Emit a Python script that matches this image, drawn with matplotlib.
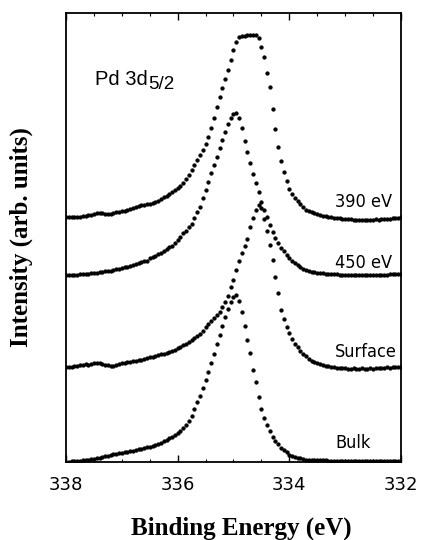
import numpy as np
import matplotlib
matplotlib.use("Agg")
import matplotlib.pyplot as plt
import matplotlib.font_manager as fm
from matplotlib.ticker import MultipleLocator

# Binding energy grid (eV), high to low as on the axis
energy = np.round(np.linspace(338.0, 332.0, 121), 2)

# Intensities (arb. units), one value per grid point
i390 = [
    245, 245, 245.5, 245, 245.5, 245.3, 246, 246.5, 247, 247.5,
    248, 249, 249.3, 249, 248.5, 248, 248, 249, 250, 250.5,
    251, 251.5, 252, 253, 254, 255, 256, 257, 257.5, 258,
    258.5, 259, 260, 261, 263, 265, 266.5, 268, 270, 272,
    274.5, 276.5, 278.7, 283, 287.5, 292, 297, 302, 307, 312.5,
    318, 325, 334, 344, 355, 365, 374, 383, 392, 402,
    412, 420, 425.5, 426.5, 426.5, 427, 427, 427, 427.5, 424,
    415, 405, 389, 375, 353, 333, 315, 301.5, 290, 281,
    273.5, 268.5, 264.5, 261.5, 258.5, 255.5, 252.5, 251, 250, 249,
    248, 247, 246.5, 246, 245.5, 245, 244.5, 244, 243.7, 243.5,
    243.5, 243, 243, 242.5, 242.5, 242, 242, 242, 242.5, 242,
    242.5, 243, 242.5, 243, 243, 243.3, 243.5, 244, 244, 244.5,
    244.7]

i450 = [
    187, 187, 187, 187.3, 187.5, 187.7, 188, 188.2, 188.4, 188.6,
    188.8, 189.2, 189.7, 190.2, 190.6, 191.1, 191.5, 192, 192.7, 193.4,
    194.1, 194.8, 195.5, 196.3, 197.2, 198.1, 198.9, 199.8, 200.6, 201.5,
    203.7, 205.1, 206.5, 207.9, 209.4, 211.1, 212.9, 214.6, 216.3, 218.6,
    222.2, 225.5, 228.7, 231, 234.6, 238.3, 244.2, 249.7, 255.3, 263.6,
    272, 280.3, 288.6, 297, 305.3, 313.6, 322, 330.3, 337.9, 344.4,
    348.5, 349.5, 344.5, 334, 321, 310, 299, 288.5, 279, 270,
    260, 252, 245.3, 237, 230, 224, 218.7, 214.5, 210.7, 207,
    204, 201.5, 199, 196.8, 195, 193.5, 192, 191, 190.5, 190,
    189.5, 189, 188.7, 188.4, 188.2, 188, 187.8, 187.6, 187.5, 187.4,
    187.3, 187.2, 187.1, 187, 187, 187, 187, 187, 187, 187,
    187, 187.2, 187.3, 187.4, 187.5, 187.5, 187.6, 187.6, 187.7, 187.7,
    187.7]

i_surface = [
    95, 95.5, 95, 96, 96.5, 97, 97.5, 98, 97.5, 98.5,
    99, 99.5, 99.3, 98.5, 97.5, 97, 96.3, 96.5, 97.5, 98.5,
    99, 99.5, 100, 100.3, 101, 101.5, 102, 102.5, 103.5, 104.5,
    105, 105.5, 106.5, 107, 108, 108.5, 109, 110, 111, 112.5,
    114, 115.5, 117, 118.5, 120, 122, 124, 126, 128.5, 131,
    135, 138, 141, 144, 147, 150.5, 155, 160, 166, 175,
    182, 192, 201, 209.5, 216.5, 223.5, 235, 244.5, 252, 257,
    254, 243.5, 231, 217, 202, 185.5, 168.7, 152, 142.7, 135.3,
    129, 123, 118.5, 115.5, 111.5, 108.5, 106, 103, 101.5, 100,
    99, 98, 97, 96.5, 96, 95.5, 95, 94.5, 94, 94,
    93.7, 93.5, 93.5, 94, 93.5, 93, 94, 93.5, 93.5, 94,
    93.5, 94, 94.5, 94, 94.5, 95, 94.5, 95, 95, 95.5,
    95.3]

i_bulk = [
    0.3, 0.4, 0.6, 0.8, 1.0, 1.3, 1.6, 2.0, 2.4, 2.8,
    3.3, 3.8, 4.4, 5.0, 5.6, 6.3, 7.0, 7.6, 8.2, 8.8,
    9.3, 9.8, 10.3, 10.8, 11.4, 12.0, 12.7, 13.4, 14.0, 14.7,
    15.3, 16.2, 17.2, 18.3, 19.5, 20.7, 22, 23.6, 25.2, 27,
    28.9, 31, 34.2, 37.4, 40.7, 46.2, 53.1, 60.1, 66, 73.9,
    82, 90.3, 99, 108.3, 117.6, 126.8, 136.1, 145.3, 152.8, 159.8,
    165.4, 167, 161, 150.3, 136.5, 122.5, 108.7, 92, 80, 65.3,
    53.1, 43.8, 37, 30.8, 25.4, 21.5, 17.6, 14.5, 12.2, 9.9,
    7.4, 6.3, 5.4, 4.5, 3.6, 2.7, 2.5, 2.3, 2.2, 2.0,
    1.9, 1.8, 1.7, 1.6, 1.5, 1.4, 1.3, 1.3, 1.3, 1.3,
    1.3, 1.3, 1.3, 1.3, 1.3, 1.3, 1.3, 1.3, 1.3, 1.3,
    1.3, 1.3, 1.3, 1.3, 1.3, 1.3, 1.3, 1.3, 1.3, 1.3,
    1.3]

series = [i390, i450, i_surface, i_bulk]
labels = ["390 eV", "450 eV", "Surface", "Bulk"]
label_heights = [255, 194, 105, 14]   # label baselines, same units as intensity
xticks = [338, 336, 334, 332]

# Narrow font for the curve labels, if one is installed; else Lato
narrow_props = None
for f in fm.fontManager.ttflist:
    if ("Narrow" in f.name or "Condensed" in f.name or
            str(f.stretch) in ("condensed", "semi-condensed", "extra-condensed")) \
            and f.style == "normal" and f.weight in (400, "normal", "regular"):
        narrow_props = fm.FontProperties(fname=f.fname, size=13)
        break
if narrow_props is None:
    narrow_props = fm.FontProperties(family="Lato", size=11.5)

fig = plt.figure(figsize=(4.22, 5.40), dpi=100)
ax = fig.add_axes([66 / 422, 78 / 540, 335 / 422, 449 / 540])

for vals in series:
    ax.plot(energy, vals, linestyle="none", marker="o", markersize=2.7,
            markerfacecolor="black", markeredgecolor="black",
            markeredgewidth=0.3, color="black")

ax.set_xlim(338, 332)
ax.set_ylim(0, 449)
ax.set_yticks([])
ax.set_xticks(xticks)
ax.set_xticklabels([str(t) for t in xticks], family="DejaVu Sans", fontsize=13)
ax.xaxis.set_minor_locator(MultipleLocator(0.5))
ax.tick_params(axis="x", which="major", direction="in", length=5, width=1,
               top=True, bottom=True, pad=10)
ax.tick_params(axis="x", which="minor", direction="in", length=2.5, width=0.8,
               top=True, bottom=True)
for s in ax.spines.values():
    s.set_linewidth(1.3)

for lab, yb in zip(labels, label_heights):
    ax.text(333.18, yb, lab, fontproperties=narrow_props,
            ha="left", va="baseline")

t1 = ax.text(337.48, 377, "Pd 3d", family=["Liberation Sans", "DejaVu Sans"],
             fontsize=14.5, ha="left", va="baseline")
ax.annotate("5/2", xy=(1, 0), xycoords=t1, xytext=(0.5, -3),
            textcoords="offset points", family=["Liberation Sans", "DejaVu Sans"],
            fontsize=13.5, ha="left", va="bottom")

serif = ["Liberation Serif", "DejaVu Serif"]
fig.text(241.5 / 422, (540 - 535) / 540, "Binding Energy (eV)", family=serif,
         fontweight="bold", fontsize=18, ha="center", va="baseline")
fig.text(21.5 / 422, (540 - 237) / 540, "Intensity (arb. units)", family=serif,
         fontweight="bold", fontsize=18, rotation=90, ha="center", va="center")

fig.savefig("out.png", dpi=100)
